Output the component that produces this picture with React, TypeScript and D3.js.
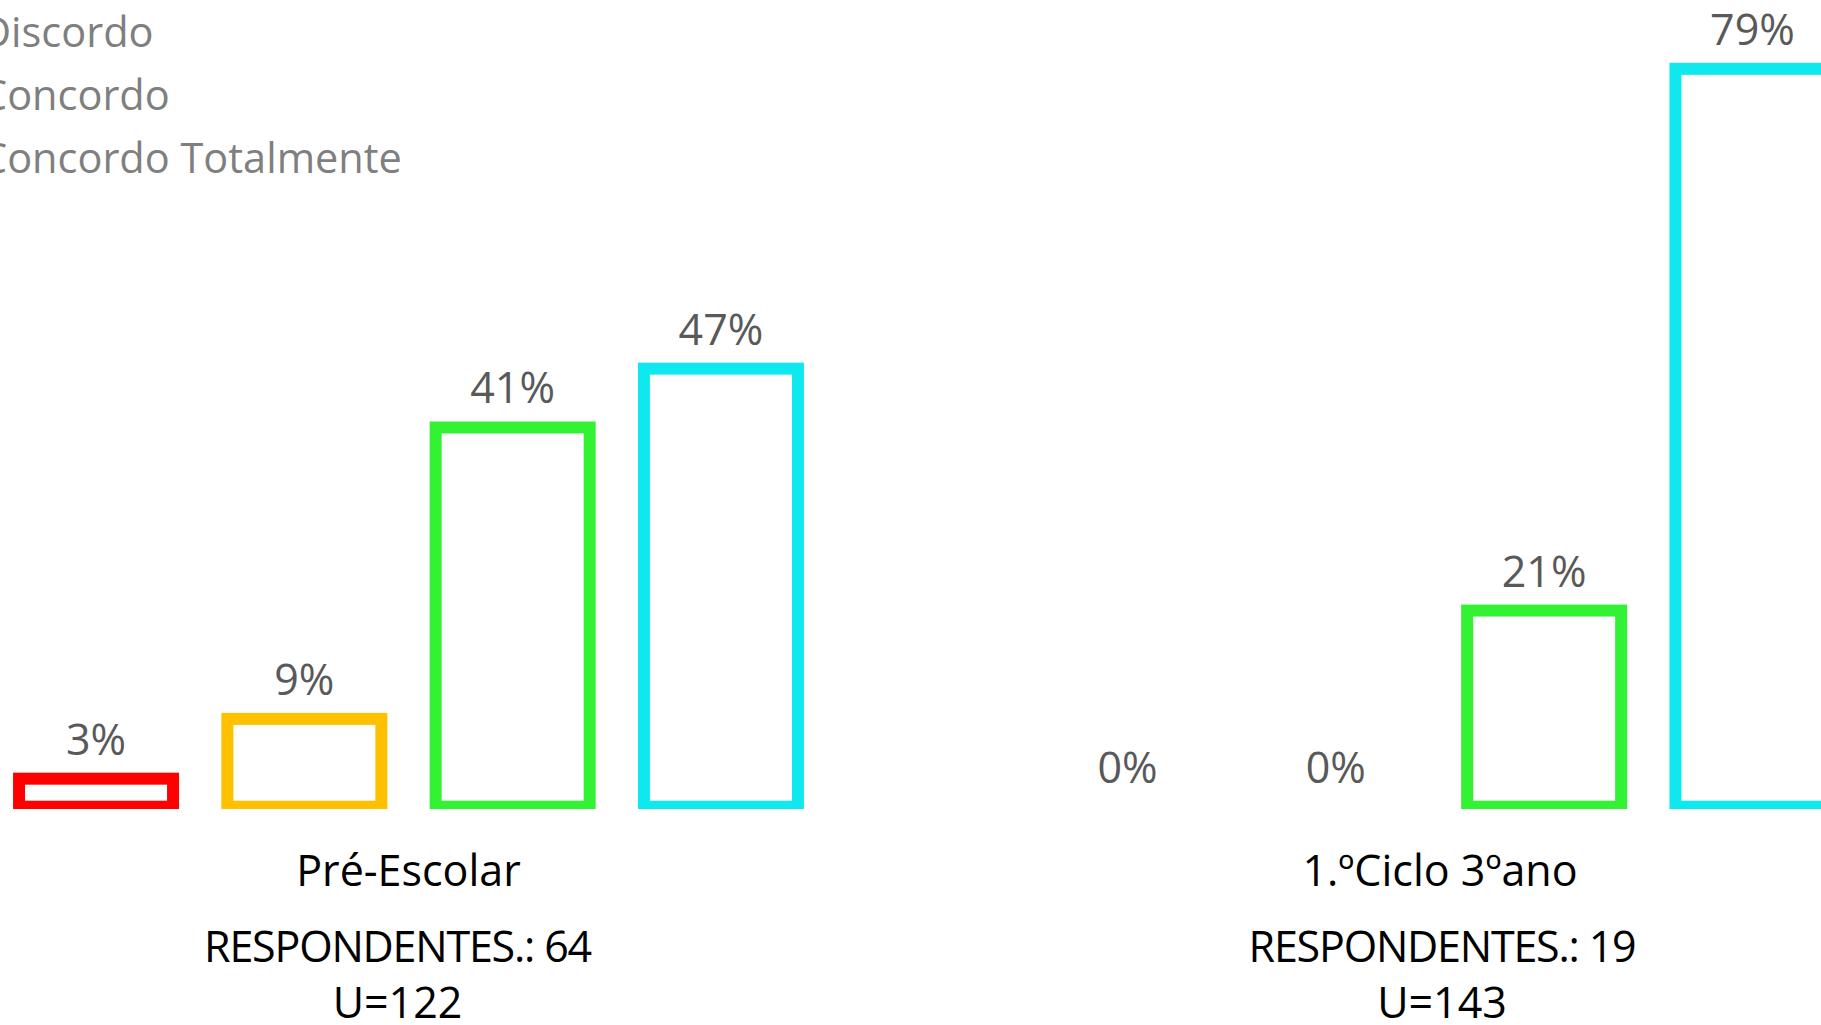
import React from "react";
import * as d3 from "d3";

// ---- data ----
const categories = ["Pré-Escolar", "1.ºCiclo 3ºano"];
const seriesNames = ["Discordo Totalmente", "Discordo", "Concordo", "Concordo Totalmente"];
const discordoTotalmente = [3.0, 0];
const discordo = [9.4, 0];
const concordo = [40.6, 21.0];
const concordoTotalmente = [46.9, 79.0];
const respondentes = [64, 19];
const uValues = [122, 143];
const seriesColors = ["#FF0000", "#FFC000", "#33F233", "#10E8F0"];

const W = 1821;
const H = 1025;
const FONT = "'Open Sans', 'Noto Sans', sans-serif";

export default function App() {
  const values = [discordoTotalmente, discordo, concordo, concordoTotalmente];

  const x0 = d3.scalePoint<string>().domain(categories).range([408.5, 1440]);
  const inner = d3
    .scaleBand<string>()
    .domain(seriesNames)
    .range([-416.6, 416.6])
    .paddingInner(0.2607)
    .paddingOuter(0.13035);
  const y = d3.scaleLinear().domain([0, 100]).range([806.7, -127.3]);
  const fmt = (v: number) => `${Math.round(v)}%`;

  const legendY = d3.scaleLinear().domain([0, 1]).range([-16.6, 46.7]);
  // the first category's info lines sit slightly left of its centre
  const infoShift = [-11, 2];

  return (
    <svg
      width={W}
      height={H}
      style={{ position: "absolute", left: 0, top: 0, background: "#fff" }}
      fontFamily={FONT}
    >
      <defs>
        <clipPath id="plotClip">
          <rect x={-200} y={-300} width={W + 400} height={300 + 809} />
        </clipPath>
      </defs>
      <rect x={0} y={0} width={W} height={H} fill="#fff" />

      {/* legend */}
      <g>
        {seriesNames.map((s, i) => (
          <text key={s} x={-19} y={legendY(i)} fontSize={41.5} fill="#7F7F7F">
            {s}
          </text>
        ))}
      </g>

      {/* bars */}
      <g clipPath="url(#plotClip)">
        {categories.map((c, ci) =>
          seriesNames.map((s, si) => {
            const v = values[si][ci];
            if (v <= 0) return null;
            const bx = (x0(c) as number) + (inner(s) as number);
            return (
              <rect
                key={c + s}
                x={bx}
                y={y(v)}
                width={inner.bandwidth()}
                height={y(0) - y(v)}
                fill="none"
                stroke={seriesColors[si]}
                strokeWidth={12}
              />
            );
          })
        )}
      </g>

      {/* value labels */}
      <g>
        {categories.map((c, ci) =>
          seriesNames.map((s, si) => {
            const v = values[si][ci];
            const cx = (x0(c) as number) + (inner(s) as number) + inner.bandwidth() / 2;
            return (
              <text
                key={"l" + c + s}
                x={cx}
                y={y(v) - 24}
                textAnchor="middle"
                fontSize={43}
                fill="#595959"
              >
                {fmt(v)}
              </text>
            );
          })
        )}
      </g>

      {/* category labels */}
      <g>
        {categories.map((c, ci) => (
          <g key={"c" + c}>
            <text x={x0(c)} y={886} textAnchor="middle" fontSize={43} fill="#000">
              {c}
            </text>
            <text
              x={(x0(c) as number) + infoShift[ci]}
              y={962}
              textAnchor="middle"
              fontSize={43}
              fill="#000"
              letterSpacing={-1.2}
            >
              {`RESPONDENTES.: ${respondentes[ci]}`}
            </text>
            <text
              x={(x0(c) as number) + infoShift[ci]}
              y={1018}
              textAnchor="middle"
              fontSize={43}
              fill="#000"
            >
              {`U=${uValues[ci]}`}
            </text>
          </g>
        ))}
      </g>
    </svg>
  );
}
